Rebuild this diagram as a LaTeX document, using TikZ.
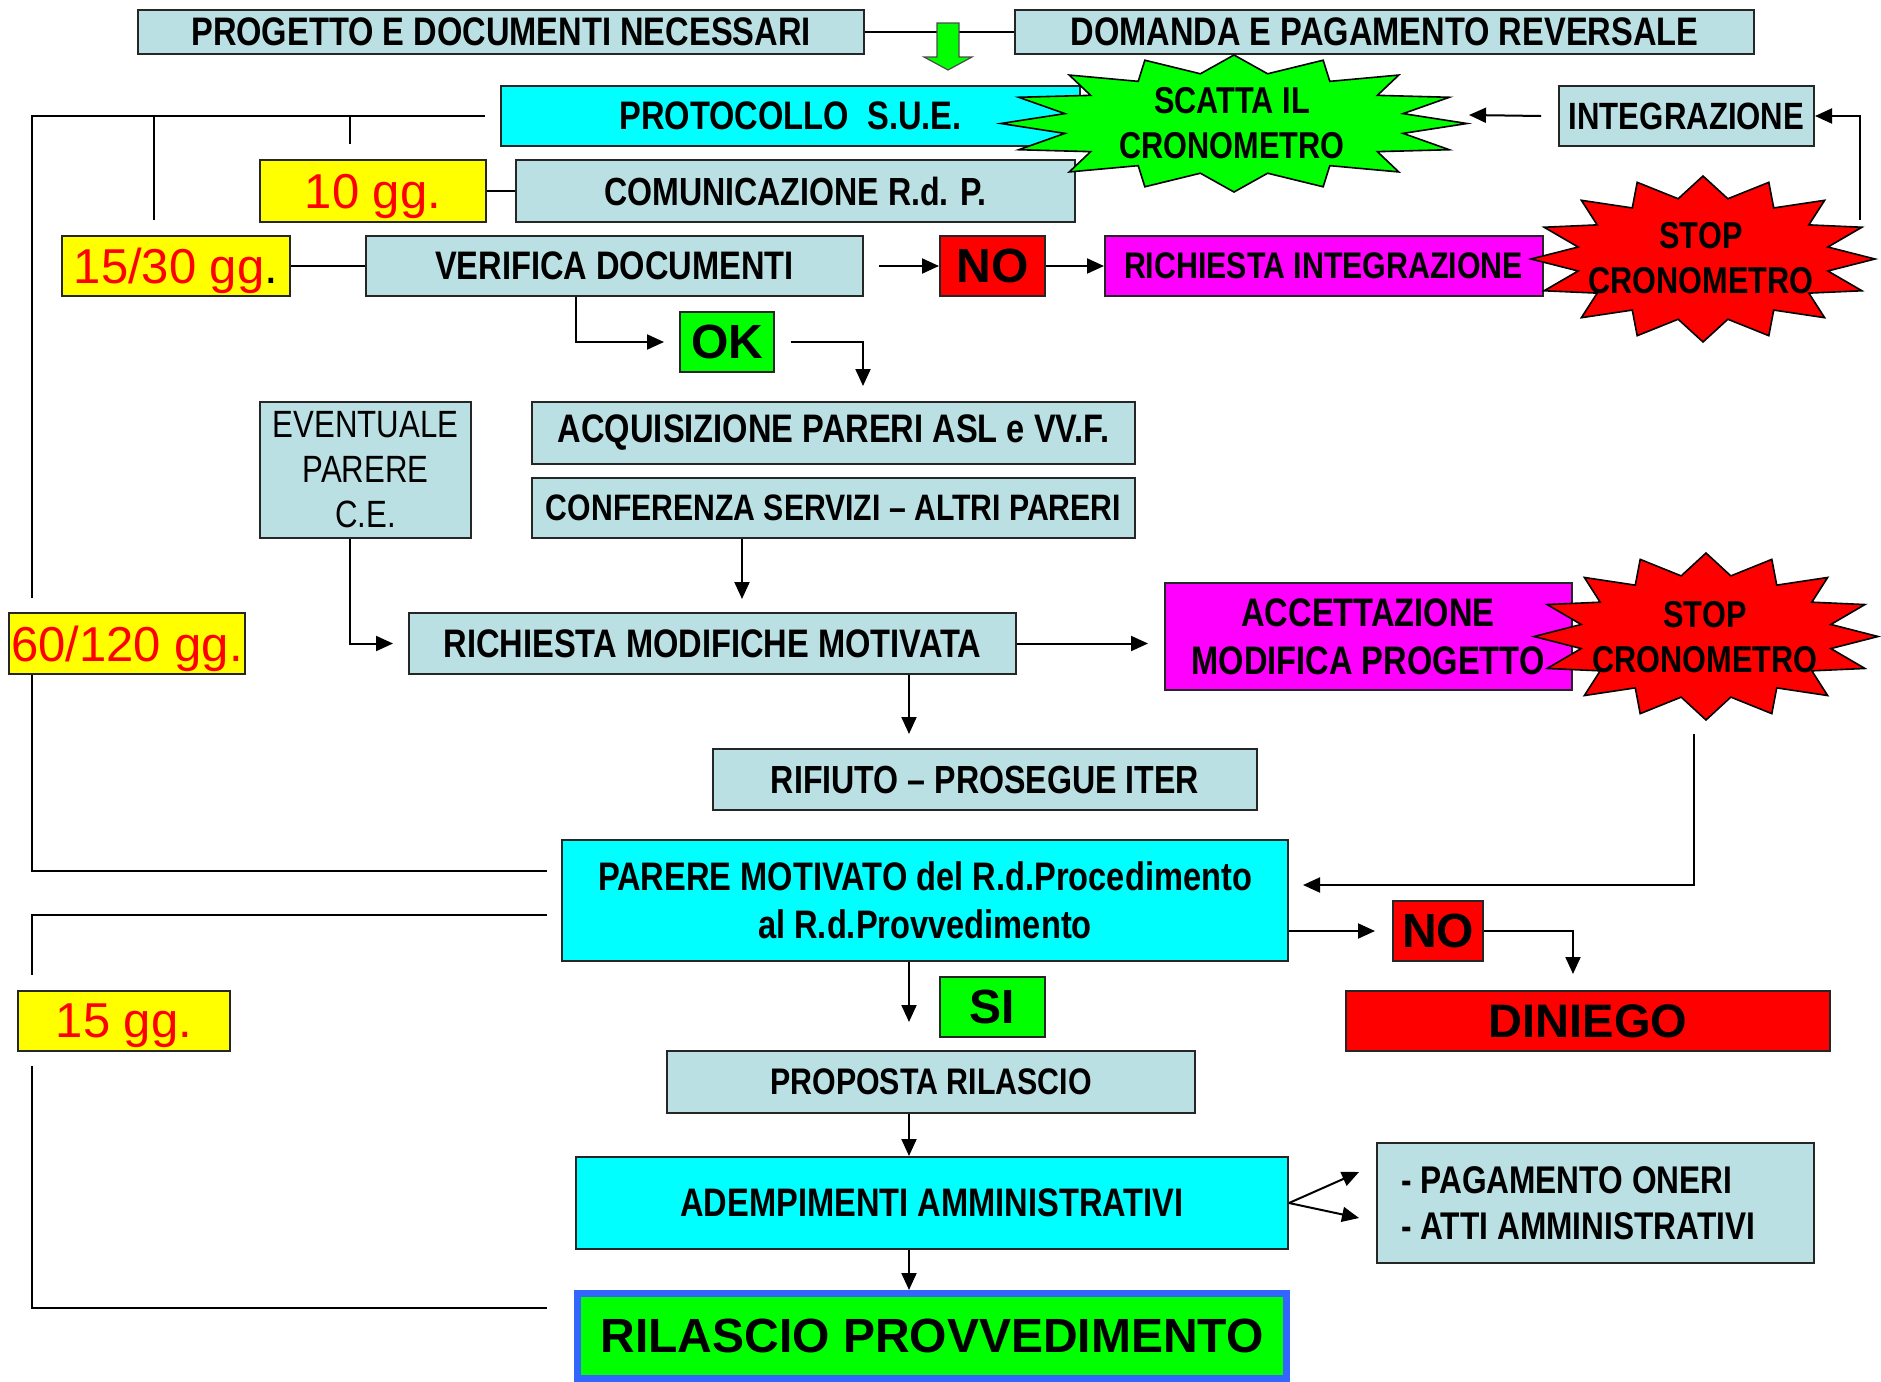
\documentclass[tikz,border=0pt]{standalone}
\usepackage{fontspec}
\setmainfont{Liberation Sans}
\newfontfamily\nar{Liberation Sans}[FakeStretch=0.82]
\usetikzlibrary{arrows.meta,calc}
\definecolor{lbox}{HTML}{BBE0E3}
\definecolor{cy}{HTML}{00FFFF}
\definecolor{yel}{HTML}{FFFF00}
\definecolor{rd}{HTML}{FF0000}
\definecolor{mg}{HTML}{FF00FF}
\definecolor{gr}{HTML}{00FF00}
\definecolor{bl}{HTML}{3366FF}
\newcommand{\fsz}[2]{\fontsize{#1pt}{#2pt}\selectfont}
\newcommand{\burst}[5]{%
  \filldraw[fill=#5,draw=black,line width=0.8pt] plot[variable=\t,samples at={0,...,31}]
   ({#1+#3*ifthenelse(mod(\t,2)==0,1,0.74)*cos(90+11.25*\t)},{#2+#4*ifthenelse(mod(\t,2)==0,1,0.74)*sin(90+11.25*\t)}) -- cycle;}
\begin{document}
\begin{tikzpicture}[x=0.5pt,y=-0.5pt,
  bx/.style={draw=black!85,line width=1pt,inner sep=0pt,align=center,text=black},
  ln/.style={draw=black,line width=1pt},
  arr/.style={ln,-{Triangle[length=8.5pt,width=7.5pt]}},
  nb/.style={font=\nar\bfseries\fsz{19.9}{23}},
  nr/.style={font=\nar\fsz{19}{22.5}},
  sb/.style={font=\nar\bfseries\fsz{18.7}{22.5},align=center},
  gg/.style={font=\fsz{24.5}{28},text=red,text depth=0pt},
  wb/.style={font=\bfseries\fsz{24}{28}},
]
\useasboundingbox (0,0) rectangle (1881,1382);
\fill[white] (0,0) rectangle (1881,1382);

% top row
\node[bx,fill=lbox,nb,minimum width=363pt,minimum height=22pt] (prog) at (501,32) {PROGETTO E DOCUMENTI NECESSARI};
\node[bx,fill=lbox,nb,minimum width=369.5pt,minimum height=22pt] (dom) at (1384.5,32) {DOMANDA E PAGAMENTO REVERSALE};
\draw[ln] (prog.east) -- (dom.west);
\filldraw[fill=gr,draw=black!70,line width=0.6pt] (937,23) -- (959,23) -- (959,57) -- (972,57) -- (948,70) -- (924,57) -- (937,57) -- cycle;

\node[bx,fill=cy,nb,minimum width=289.5pt,minimum height=30pt] (prot) at (790.5,116) {PROTOCOLLO\ \ S.U.E.};
\node[bx,fill=lbox,nb,font=\nar\bfseries\fsz{19.6}{23},minimum width=279.5pt,minimum height=31pt] (com) at (795.5,191) {COMUNICAZIONE R.d. P.};
\burst{1234}{123.5}{233}{68.5}{gr}
\node[sb] (s1t) at (1232,123) {SCATTA IL\\CRONOMETRO};
\coordinate (s1r) at (1469,115);

\node[bx,fill=lbox,nb,font=\nar\bfseries\fsz{19}{23},minimum width=127.5pt,minimum height=30pt] (integ) at (1686.5,116) {INTEGRAZIONE};
\node[bx,fill=yel,gg,minimum width=113pt,minimum height=31pt] (g10) at (373,191) {10 gg.};
\node[bx,fill=yel,gg,minimum width=114pt,minimum height=30pt] (g15) at (176,266) {15/30 gg{\color{black}.}};
\node[bx,fill=lbox,nb,minimum width=248.5pt,minimum height=30pt] (ver) at (614.5,266) {VERIFICA DOCUMENTI};
\node[bx,fill=rd,wb,minimum width=52.5pt,minimum height=30pt] (no1) at (992.5,266) {NO};
\node[bx,fill=mg,minimum width=219pt,minimum height=30pt] (ri) at (1324,266) {};
\burst{1703}{259}{172}{83}{rd}
\node[nb,font=\nar\bfseries\fsz{18.5}{23}] (rit) at (1323.5,266) {RICHIESTA INTEGRAZIONE};
\node[sb] (s2t) at (1701,258) {STOP\\CRONOMETRO};
\coordinate (s2r) at (1860,220);

\node[bx,fill=gr,wb,minimum width=47pt,minimum height=30pt] (ok) at (727,342) {OK};

\node[bx,fill=lbox,nr,minimum width=105.5pt,minimum height=68pt] (ev) at (365.5,470) {EVENTUALE\\PARERE\\C.E.};
\node[bx,fill=lbox,nb,minimum width=301.5pt,minimum height=31pt] (acq) at (833.5,433) {ACQUISIZIONE PARERI ASL e VV.F.};
\node[bx,fill=lbox,font=\nar\bfseries\fsz{18.4}{23},minimum width=301.5pt,minimum height=30pt] (conf) at (833.5,508) {CONFERENZA SERVIZI – ALTRI PARERI};

\node[bx,fill=yel,gg,minimum width=118pt,minimum height=30.5pt] (g60) at (127,643.5) {60/120 gg.};
\node[bx,fill=lbox,nb,minimum width=303.5pt,minimum height=30.5pt] (rmm) at (712.5,643.5) {RICHIESTA MODIFICHE MOTIVATA};
\node[bx,fill=mg,minimum width=203.5pt,minimum height=53.5pt] (acc) at (1368.5,636.5) {};
\burst{1706}{636.5}{172}{83.5}{rd}
\node[align=center,font=\nar\bfseries\fsz{19.9}{24}] (acct) at (1368,637) {ACCETTAZIONE\\MODIFICA PROGETTO};
\node[sb] (s3t) at (1705,637) {STOP\\CRONOMETRO};
\coordinate (s3b) at (1694,734);

\node[bx,fill=lbox,nb,font=\nar\bfseries\fsz{19.6}{23},minimum width=272pt,minimum height=30.5pt] (rif) at (985,779.5) {RIFIUTO – PROSEGUE ITER};
\node[bx,fill=cy,font=\nar\bfseries\fsz{19.9}{24},minimum width=363pt,minimum height=60.5pt] (par) at (925,900.5) {PARERE MOTIVATO del R.d.Procedimento\\al R.d.Provvedimento};
\coordinate (parin) at (1303,885);
\node[bx,fill=rd,wb,minimum width=45pt,minimum height=30pt] (no2) at (1438,931) {NO};
\node[bx,fill=rd,font=\bfseries\fsz{23.5}{28},minimum width=242pt,minimum height=30pt] (dini) at (1588,1021) {DINIEGO};
\node[bx,fill=yel,gg,minimum width=106pt,minimum height=30pt] (g15b) at (124,1021) {15 gg.};
\node[bx,fill=gr,wb,minimum width=52.5pt,minimum height=30pt] (si) at (992.5,1007) {SI};
\node[bx,fill=lbox,font=\nar\bfseries\fsz{18.5}{23},minimum width=264pt,minimum height=31pt] (prop) at (931,1082) {PROPOSTA RILASCIO};
\node[bx,fill=cy,nb,minimum width=356pt,minimum height=46pt] (adem) at (932,1203) {ADEMPIMENTI AMMINISTRATIVI};
\node[bx,fill=lbox,minimum width=218.5pt,minimum height=60pt] (pag) at (1595.5,1203) {};
\node[align=left,anchor=west,font=\nar\bfseries\fsz{19.3}{23}] (pagt) at (1394,1203) {- PAGAMENTO ONERI\\- ATTI AMMINISTRATIVI};
\node[draw=bl,line width=3.5pt,fill=gr,wb,inner sep=0pt,minimum width=354.5pt,minimum height=42.5pt] (ril) at (932,1336) {RILASCIO PROVVEDIMENTO};

% bracket coordinates
\coordinate (bTL) at (32,116);
\coordinate (b1a) at (32,598);
\coordinate (b1b) at (32,675);
\coordinate (b1c) at (32,871);
\coordinate (b1e) at (547,871);
\coordinate (t1) at (154,116);
\coordinate (t1e) at (154,220);
\coordinate (t2) at (350,116);
\coordinate (t2e) at (350,144);
\coordinate (b2s) at (547,915);
\coordinate (b2a) at (32,915);
\coordinate (b2b) at (32,975);
\coordinate (b2c) at (32,1066);
\coordinate (b2d) at (32,1308);
\coordinate (b2e) at (547,1308);
\coordinate (okend) at (863,386);

% connectors
\draw[ln] ([xshift=-7.5pt]prot.west) -- (bTL) -- (b1a);
\draw[ln] (t1) -- (t1e);
\draw[ln] (t2) -- (t2e);
\draw[ln] (b1b) -- (b1c) -- (b1e);
\draw[ln] (b2s) -- (b2a) -- (b2b);
\draw[ln] (b2c) -- (b2d) -- (b2e);

\draw[ln] (g10.east) -- (com.west);
\draw[ln] (g15.east) -- (ver.west);
\draw[arr] ([xshift=-8.5pt]integ.west) -- (s1r);
\draw[arr] (s2r) |- (integ.east);
\draw[arr] ([xshift=7.5pt]ver.east) -- (no1.west);
\draw[arr] (no1.east) -- (ri.west);
\draw[arr] ([xshift=-19.25pt]ver.south) |- ([xshift=-7.5pt]ok.west);
\draw[arr] ([xshift=8pt]ok.east) -| (okend);
\draw[arr] ([xshift=-45.75pt]conf.south) -- ++(0,60);
\draw[arr] ([xshift=-7.75pt]ev.south) |- ([xshift=-7.5pt]rmm.west);
\draw[arr] (rmm.east) -- ([xshift=-8pt]rmm.east -| acc.west);
\draw[arr] ([xshift=98.25pt]rmm.south) -- ++(0,59);
\draw[arr] (s3b) |- (parin);
\draw[arr] (par.east |- no2.west) -- ([xshift=-8.5pt]no2.west);
\draw[arr] (no2.east) -| ([xshift=-7.5pt,yshift=8pt]dini.north);
\draw[arr] ([xshift=-8pt]par.south) -- ++(0,60);
\draw[arr] ([xshift=-11pt]prop.south) -- ([xshift=-11pt]prop.south |- adem.north);
\draw[arr] ([xshift=-11.5pt]adem.south) -- ([xshift=-11.5pt]adem.south |- ril.north);
\draw[arr] (adem.east) -- ([xshift=-8.5pt,yshift=15.5pt]pag.west);
\draw[arr] (adem.east) -- ([xshift=-8.5pt,yshift=-7.5pt]pag.west);
\end{tikzpicture}
\end{document}
